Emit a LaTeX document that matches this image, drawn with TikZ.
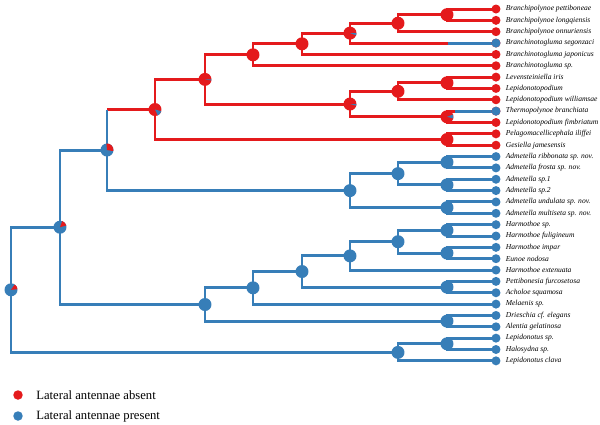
\documentclass[tikz,border=0pt]{standalone}
\usepackage{fontspec}
\setmainfont{Liberation Serif}
\definecolor{antred}{RGB}{228,26,28}
\definecolor{antblue}{RGB}{55,126,184}
% pie: node, base colour, wedge colour, start angle, end angle
\newcommand{\antpie}[5]{%
  \fill[#2] (#1) circle (0.13cm);
  \fill[#3] (#1) -- ++(#4:0.13cm) arc[start angle=#4, end angle=#5, radius=0.13cm] -- cycle;}

\begin{document}
\begin{tikzpicture}[x=0.02cm, y=-0.02cm,
	absent/.style={antred, line width=1.7pt},
	present/.style={antblue, line width=1.7pt},
	taxon/.style={anchor=west, inner sep=0pt, font=\fontsize{4.3}{5}\selectfont\itshape},
	legdot/.style={circle, inner sep=0pt, minimum size=0.19cm},
	legtext/.style={anchor=west, inner sep=0pt, font=\fontsize{7.2}{8}\selectfont}]
	\useasboundingbox (0,0) rectangle (600,424);
	% tips
	\foreach \i in {1,...,32}
		\coordinate (t\i) at (496,{9+(\i-1)*11.35});
	% internal nodes
	\coordinate (root) at (11,289.8);
	\coordinate (nA) at (60,227.2);
	\coordinate (nB) at (107,150);
	\coordinate (nC) at (205,304.5);
	\coordinate (nD) at (155,109.5);
	\coordinate (nE) at (350,190.6);
	\coordinate (nF) at (205,79.4);
	\coordinate (nG) at (253,54.8);
	\coordinate (nH) at (350,104);
	\coordinate (nI) at (302,43.8);
	\coordinate (nJ) at (350,33.1);
	\coordinate (nK) at (398,23.2);
	\coordinate (nL) at (447,14.7);
	\coordinate (nP) at (447,82.8);
	\coordinate (nQ) at (398,91.3);
	\coordinate (nR) at (447,116.8);
	\coordinate (nS) at (447,139.5);
	\coordinate (nT1) at (447,162.2);
	\coordinate (nT2) at (447,184.9);
	\coordinate (nU) at (398,173.6);
	\coordinate (nT3) at (447,207.6);
	\coordinate (nV1) at (447,230.3);
	\coordinate (nV2) at (447,253);
	\coordinate (nW) at (398,241.7);
	\coordinate (nX) at (350,255.9);
	\coordinate (nV3) at (447,287.1);
	\coordinate (nY) at (302,271.5);
	\coordinate (nZ) at (253,287.8);
	\coordinate (nV4) at (447,321.1);
	\coordinate (nV5) at (447,343.8);
	\coordinate (nM) at (398,352.4);
	\coordinate (sg) at (448,{9+3*11.35});
	\coordinate (tb) at (455,{9+9*11.35});

	% branches, antennae absent
	\foreach \a/\b in {nL/t1, nL/t2, nK/nL, nK/t3, nJ/nK, nI/nJ, nI/t5, nG/nI, nG/t6,
		nF/nG, nF/nH, nH/nQ, nH/nR, nQ/nP, nQ/t9, nP/t7, nP/t8, nR/t11,
		nD/nF, nD/nS, nS/t12, nS/t13, nJ/sg, nR/tb}
		\draw[absent] (\a) |- (\b);
	\draw[absent] (nB |- nD) -- (nD);
	% branches, antennae present
	\foreach \a/\b in {root/nA, root/nM, nM/nV5, nM/t32, nV5/t30, nV5/t31,
		nA/nB, nA/nC, nB/nE, nE/nU, nE/nT3, nU/nT1, nU/nT2, nT1/t14, nT1/t15,
		nT2/t16, nT2/t17, nT3/t18, nT3/t19, nC/nZ, nC/nV4, nV4/t28, nV4/t29,
		nZ/nY, nZ/t27, nY/nX, nY/nV3, nV3/t25, nV3/t26, nX/nW, nX/t24,
		nW/nV1, nW/nV2, nV1/t20, nV1/t21, nV2/t22, nV2/t23}
		\draw[present] (\a) |- (\b);
	\draw[present] (nB) -- (nB |- nD);
	\draw[present] (sg) -- (t4);
	\draw[present] (tb) -- (t10);

	% ancestral states
	\antpie{root}{antblue}{antred}{5}{55}
	\antpie{nA}{antblue}{antred}{15}{70}
	\antpie{nB}{antblue}{antred}{-10}{95}
	\antpie{nD}{antred}{antblue}{-65}{-15}
	\antpie{nF}{antred}{antblue}{-10}{0}
	\antpie{nJ}{antred}{antblue}{-20}{0}
	\antpie{nH}{antred}{antblue}{-15}{0}
	\antpie{nR}{antred}{antblue}{-15}{20}
	\foreach \n in {nG, nI, nK, nL, nP, nQ, nS}
		\fill[antred] (\n) circle (0.13cm);
	\foreach \n in {nC, nE, nU, nT1, nT2, nT3, nZ, nY, nX, nW, nV1, nV2, nV3, nV4, nV5, nM}
		\fill[antblue] (\n) circle (0.13cm);
	\foreach \i in {1,...,32}{
		\ifnum\i<14 \fill[antred] (t\i) circle (0.09cm); \else \fill[antblue] (t\i) circle (0.09cm); \fi}
	\fill[antblue] (t4) circle (0.09cm);
	\fill[antblue] (t10) circle (0.09cm);

	% taxa
	\foreach \i/\name in {1/Branchipolynoe pettiboneae, 2/Branchipolynoe longqiensis,
		3/Branchipolynoe onnuriensis, 4/Branchinotogluma segonzaci,
		5/Branchinotogluma japonicus, 6/Branchinotogluma sp., 7/Levensteiniella iris,
		8/Lepidonotopodium, 9/Lepidonotopodium williamsae, 10/Thermopolynoe branchiata,
		11/Lepidonotopodium fimbriatum, 12/Pelagomacellicephala iliffei,
		13/Gesiella jamesensis, 14/Admetella ribbonata sp. nov., 15/Admetella frosta sp. nov.,
		16/Admetella sp.1, 17/Admetella sp.2, 18/Admetella undulata sp. nov.,
		19/Admetella multiseta sp. nov., 20/Harmothoe sp., 21/Harmothoe fuligineum,
		22/Harmothoe impar, 23/Eunoe nodosa, 24/Harmothoe extenuata,
		25/Pettibonesia furcosetosa, 26/Acholoe squamosa, 27/Melaenis sp.,
		28/Drieschia cf. elegans, 29/Alentia gelatinosa, 30/Lepidonotus sp.,
		31/Halosydna sp., 32/Lepidonotus clava}
		\node[taxon, xshift=0.19cm] (lab\i) at (t\i) {\name};

	% legend
	\node[legdot, fill=antred] (absdot) at (18,395) {};
	\node[legtext] (abstext) at (36,395) {Lateral antennae absent};
	\node[legdot, fill=antblue] (presdot) at (18,416) {};
	\node[legtext] (prestext) at (36,416) {Lateral antennae present};
\end{tikzpicture}
\end{document}
